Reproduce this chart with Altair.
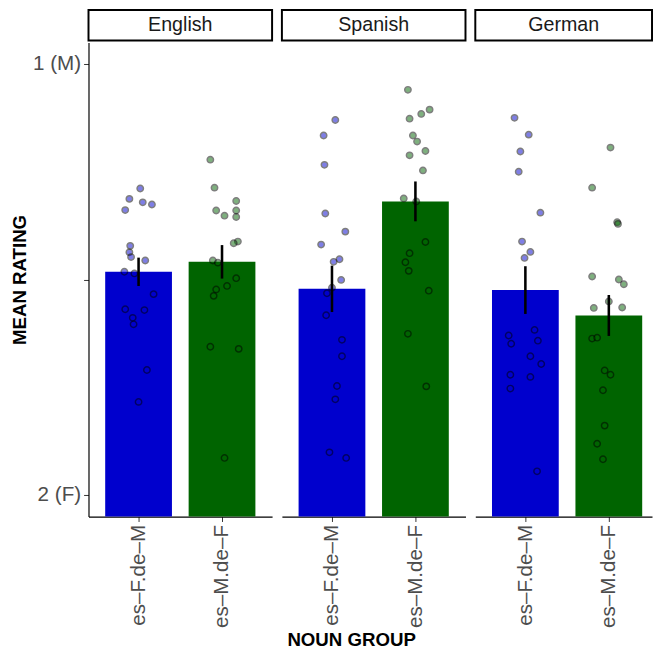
import altair as alt
import pandas as pd

# ---------------- data ----------------
languages = ["English", "Spanish", "German"]
groups = ["es-F.de-M", "es-M.de-F"]
group_labels = ["es\u2013F.de\u2013M", "es\u2013M.de\u2013F"]
group_colors = ["#0000CD", "#006400"]

y_ticks = [1, 1.5, 2]
y_tick_labels = ["1 (M)", "", "2 (F)"]

# individual item ratings (mean rating per noun), one list per panel/group
en_fm = [1.289, 1.313, 1.321, 1.326, 1.339, 1.422, 1.437, 1.448, 1.456,
         1.482, 1.486, 1.534, 1.569, 1.571, 1.589, 1.604, 1.710, 1.784]
en_fm_jit = [0.02, -0.11, 0.05, 0.16, -0.16, -0.10, -0.11, -0.09, 0.08,
             -0.17, -0.05, 0.18, -0.16, 0.07, -0.07, -0.06, 0.10, 0.00]
en_mf = [1.222, 1.287, 1.318, 1.340, 1.340, 1.352, 1.355, 1.412, 1.416,
         1.456, 1.461, 1.497, 1.515, 1.523, 1.538, 1.656, 1.661, 1.914]
en_mf_jit = [-0.14, -0.09, 0.17, -0.07, 0.17, 0.03, 0.17, 0.19, 0.14,
             -0.11, -0.05, 0.17, 0.06, -0.07, -0.10, -0.14, 0.20, 0.03]
es_fm = [1.130, 1.166, 1.234, 1.347, 1.389, 1.419, 1.453, 1.459, 1.501,
         1.519, 1.532, 1.583, 1.640, 1.678, 1.747, 1.778, 1.901, 1.914]
es_fm_jit = [0.04, -0.10, -0.09, -0.08, 0.16, -0.13, 0.09, 0.02, 0.11,
             0.00, -0.06, -0.07, 0.12, 0.12, 0.06, 0.04, -0.03, 0.17]
es_mf = [1.060, 1.106, 1.116, 1.127, 1.166, 1.180, 1.202, 1.212, 1.247,
         1.312, 1.319, 1.413, 1.439, 1.460, 1.480, 1.526, 1.626, 1.748]
es_mf_jit = [-0.09, 0.17, 0.07, -0.07, -0.03, 0.02, 0.12, -0.07, 0.09,
             -0.14, 0.01, 0.12, -0.07, -0.12, -0.08, 0.16, -0.09, 0.13]
de_fm = [1.125, 1.164, 1.203, 1.250, 1.345, 1.412, 1.436, 1.450, 1.617,
         1.630, 1.649, 1.642, 1.678, 1.696, 1.721, 1.726, 1.753, 1.945]
de_fm_jit = [-0.13, 0.04, -0.06, -0.08, 0.18, -0.04, 0.06, -0.01, 0.11,
             -0.20, -0.17, 0.15, 0.06, 0.19, -0.18, 0.06, -0.18, 0.14]
de_mf = [1.194, 1.287, 1.367, 1.371, 1.493, 1.500, 1.511, 1.551, 1.566,
         1.565, 1.637, 1.635, 1.711, 1.721, 1.757, 1.839, 1.881, 1.917]
de_mf_jit = [0.02, -0.20, 0.10, 0.11, -0.20, 0.12, 0.18, 0.00, -0.18,
             0.16, -0.20, -0.14, -0.05, 0.02, -0.07, -0.05, -0.14, -0.07]

series = {
    ("English", 0): (en_fm, en_fm_jit), ("English", 1): (en_mf, en_mf_jit),
    ("Spanish", 0): (es_fm, es_fm_jit), ("Spanish", 1): (es_mf, es_mf_jit),
    ("German", 0): (de_fm, de_fm_jit), ("German", 1): (de_mf, de_mf_jit),
}

rows = []
for (lang, gi), (vals, jits) in series.items():
    for v, j in zip(vals, jits):
        rows.append({"language": lang, "group": groups[gi], "pos": gi + 1,
                     "rating": v, "jitter": j})
df = pd.DataFrame(rows)

# ---------------- layout constants ----------------
FONT = "Liberation Sans"
PANEL_W = 187
PANEL_H = 483
STRIP_H = 31
Y_DOMAIN = [0.95, 2.05]
X_MIN, X_MAX = 0.4, 2.6
BAR_HALF = 0.4
UNITS_PER_PX = (X_MAX - X_MIN) / PANEL_W

x_label_expr = (f"datum.value == 1 ? '{group_labels[0]}' : "
                f"datum.value == 2 ? '{group_labels[1]}' : ''")
y_label_expr = " : ".join(
    f"datum.value == {t} ? '{l}'" for t, l in zip(y_ticks, y_tick_labels)
) + " : ''"


def panel(lang, width, show_y):
    x_hi = X_MIN + width * UNITS_PER_PX
    xscale = alt.Scale(domain=[X_MIN, x_hi], nice=False, zero=False)
    yscale = alt.Scale(domain=Y_DOMAIN, reverse=True, nice=False, zero=False)
    xaxis = alt.Axis(values=[1, 2], labelExpr=x_label_expr, labelAngle=270,
                     title=None, grid=False, domainColor="black",
                     domainWidth=1.2, tickColor="#333333", tickSize=5,
                     labelFontSize=21, labelColor="#4d4d4d", labelFont=FONT,
                     labelPadding=3)
    if show_y:
        yaxis = alt.Axis(values=y_ticks, labelExpr=y_label_expr,
                         title="MEAN RATING", titleFontSize=19,
                         titleFontWeight="bold", titleColor="black",
                         titleFont=FONT, titlePadding=3, labelFontSize=21,
                         labelColor="#4d4d4d", labelFont=FONT, grid=False,
                         domainColor="black", domainWidth=1.2,
                         tickColor="#333333", tickSize=5, labelPadding=3)
    else:
        yaxis = None
    fill = alt.Fill("group:N", scale=alt.Scale(domain=groups, range=group_colors),
                    legend=None)

    base = alt.Chart(df[df.language == lang])

    agg = base.transform_aggregate(
        mean_rating="mean(rating)", se="stderr(rating)", groupby=["group", "pos"]
    ).transform_calculate(
        xl=f"datum.pos - {BAR_HALF}", xr=f"datum.pos + {BAR_HALF}",
        lo="datum.mean_rating - datum.se", hi="datum.mean_rating + datum.se",
    )

    bars = agg.mark_bar().encode(
        x=alt.X("xl:Q", scale=xscale, axis=xaxis),
        x2="xr:Q",
        y=alt.Y("mean_rating:Q", scale=yscale, axis=yaxis),
        y2=alt.datum(Y_DOMAIN[1]),
        fill=fill,
    )
    pts = base.transform_calculate(xj="datum.pos + datum.jitter").mark_circle(
        size=42, opacity=0.5, stroke="black", strokeWidth=1.5
    ).encode(
        x=alt.X("xj:Q", scale=xscale, axis=xaxis),
        y=alt.Y("rating:Q", scale=yscale, axis=yaxis),
        fill=fill,
    )
    err = agg.mark_rule(color="black", strokeWidth=2.6).encode(
        x=alt.X("pos:Q", scale=xscale, axis=xaxis),
        y=alt.Y("lo:Q", scale=yscale, axis=yaxis),
        y2="hi:Q",
    )
    body = alt.layer(bars, pts, err).properties(width=width, height=PANEL_H)

    strip = alt.Chart(pd.DataFrame({"lang": [lang]})).mark_text(
        fontSize=20, font=FONT, color="#1a1a1a"
    ).encode(text="lang:N").properties(
        width=width, height=STRIP_H,
        view=alt.ViewBackground(stroke="black", strokeWidth=2, fill="white"),
    )
    return alt.vconcat(strip, body, spacing=1)


widths = [PANEL_W, PANEL_W, 180]
cols = [panel(lang, w, i == 0) for i, (lang, w) in enumerate(zip(languages, widths))]

chart = alt.hconcat(*cols, spacing=8).resolve_scale(
    x="independent", y="independent"
).properties(
    title=alt.TitleParams("NOUN GROUP", orient="bottom", anchor="middle",
                          fontSize=19, fontWeight="bold", color="black",
                          font=FONT, offset=4, dx=20),
    padding={"left": 3, "top": -5, "right": 0, "bottom": 0},
).configure_view(strokeWidth=0)

chart.save("out.html", embed_options={"renderer": "svg", "actions": False})
